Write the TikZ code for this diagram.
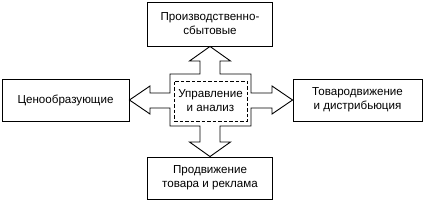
\documentclass[tikz,border=0pt]{standalone}
\usepackage{fontspec}
\setmainfont{Liberation Sans}
\begin{document}
\begin{tikzpicture}[x=1pt,y=1pt,
    box/.style={draw,line width=0.9pt,align=center,inner sep=0pt,
      font=\fontsize{11.6}{14}\selectfont},
    core/.style={draw,dashed,dash pattern=on 3.5pt off 2pt,line width=0.9pt,
      align=center,inner sep=0pt,font=\fontsize{11.6}{14}\selectfont}]
    \useasboundingbox (0,0) rectangle (425,201);

    \node[box,minimum width=125,minimum height=44] (prod) at (210,177) {Производственно-\\сбытовые};
    \node[box,minimum width=125,minimum height=42] (promo) at (210,23) {Продвижение\\товара и реклама};
    \node[box,minimum width=127,minimum height=42] (price) at (65.5,101) {Ценообразующие};
    \node[box,minimum width=129,minimum height=42] (distr) at (357.5,101) {Товародвижение\\и дистрибьюция};

    \draw[line width=0.9pt,line join=miter]
      (prod.south) -- (230.5,140) -- (220,140) -- (220,127) -- (251,127)
      -- (251,108) -- (272,108) -- (272,115) -- (distr.west) -- (272,87)
      -- (272,93) -- (251,93) -- (251,75) -- (220,75) -- (220,59)
      -- (230.5,59) -- (promo.north) -- (189.5,59) -- (200,59) -- (200,75)
      -- (170,75) -- (170,93) -- (150,93) -- (150,87) -- (price.east)
      -- (150,115) -- (150,108) -- (170,108) -- (170,127) -- (200,127)
      -- (200,140) -- (189.5,140) -- cycle;

    \node[core,minimum width=73,minimum height=40] (mgmt) at (210.5,100) {Управление\\и анализ};
\end{tikzpicture}
\end{document}
